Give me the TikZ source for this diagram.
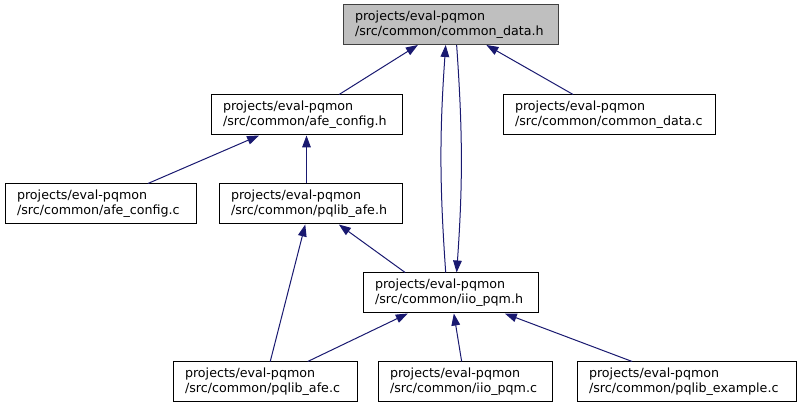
\documentclass[tikz,border=0pt]{standalone}
\usepackage{fontspec}
\setmainfont{DejaVu Sans}
\usetikzlibrary{arrows.meta}
\definecolor{edgeblue}{HTML}{191970}
\definecolor{nodegray}{HTML}{BFBFBF}
\definecolor{framegray}{HTML}{404040}

\tikzset{
  file/.style={draw=black, line width=0.75pt, fill=white, align=left,
    inner xsep=9pt, inner ysep=0pt, minimum height=30pt, text width=#1},
  current/.style={file=#1, fill=nodegray, draw=framegray},
  include/.style={edgeblue, line width=0.75pt, -{Triangle[length=9pt,width=6.5pt]}}
}

\begin{document}
\begin{tikzpicture}[x=0.75pt, y=-0.75pt, font=\fontsize{9.5}{11.25}\selectfont]
  \useasboundingbox (0,0) rectangle (800,409);

  % files
  \node[current=143.25pt] (cdh) at (450.5,24.5) {projects/eval-pqmon\\/src/common/common\_data.h};
  \node[file=125.25pt] (afeh) at (306.5,115) {projects/eval-pqmon\\/src/common/afe\_config.h};
  \node[file=141pt] (cdc) at (609,115) {projects/eval-pqmon\\/src/common/common\_data.c};
  \node[file=125.25pt] (afec) at (100.5,204) {projects/eval-pqmon\\/src/common/afe\_config.c};
  \node[file=119.25pt] (pqah) at (310.5,204) {projects/eval-pqmon\\/src/common/pqlib\_afe.h};
  \node[file=113.25pt] (iioh) at (450.5,293) {projects/eval-pqmon\\/src/common/iio\_pqm.h};
  \node[file=120pt] (pqac) at (265,382) {projects/eval-pqmon\\/src/common/pqlib\_afe.c};
  \node[file=112.5pt] (iioc) at (465,382) {projects/eval-pqmon\\/src/common/iio\_pqm.c};
  \node[file=146.25pt] (pqec) at (686.5,382) {projects/eval-pqmon\\/src/common/pqlib\_example.c};

  % includes
  \draw[include] (afeh) -- (cdh);
  \draw[include] (cdc) -- (cdh);
  \draw[include] ([xshift=-3.6pt]iioh.north) to[bend left=4] ([xshift=-3.6pt]cdh.south);
  \draw[include] ([xshift=4.6pt]cdh.south) to[bend left=4] ([xshift=4.6pt]iioh.north);
  \draw[include] (afec) -- (afeh);
  \draw[include] (pqah.north -| afeh.south) -- (afeh.south);
  \draw[include] (pqac) -- (pqah);
  \draw[include] ([xshift=-34pt]iioh.north) -- (pqah);
  \draw[include] (pqac) -- (iioh);
  \draw[include] (iioc) -- (iioh);
  \draw[include] (pqec) -- (iioh);
\end{tikzpicture}
\end{document}
